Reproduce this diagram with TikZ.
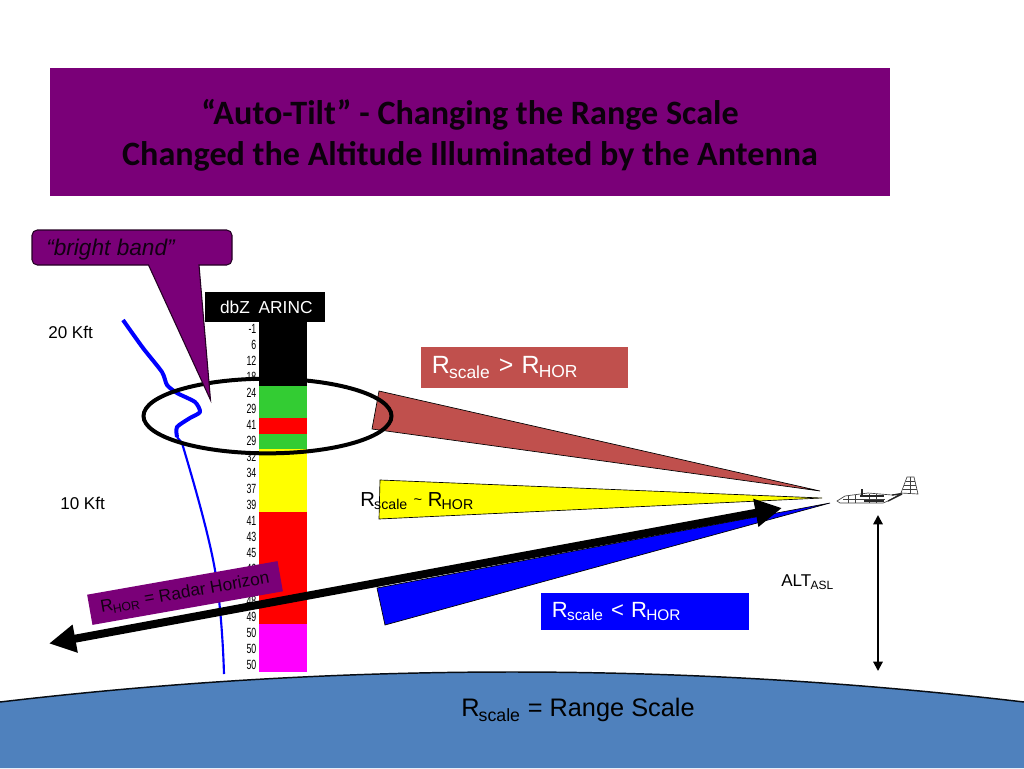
\documentclass[tikz,border=0pt]{standalone}
\usepackage{fontspec}
\setmainfont{Liberation Sans}
\newfontfamily\titlefont{Carlito}
\usetikzlibrary{arrows.meta,shapes.geometric}
\definecolor{plumbox}{HTML}{7A0078}
\definecolor{dullred}{HTML}{C0504D}
\definecolor{earthblue}{HTML}{4F81BD}
\definecolor{dbgreen}{HTML}{33CC33}
\definecolor{dbyellow}{HTML}{FFFF00}
\definecolor{dbred}{HTML}{FF0000}
\definecolor{dbmagenta}{HTML}{FF00FF}
\definecolor{dbblue}{HTML}{0000FF}
\newcommand{\rsub}[2]{#1\textsubscript{\kern-.05em#2}}
\tikzset{
	dbcell/.style={anchor=north west,minimum width=36pt,inner sep=0pt,outer sep=0pt},
	dblabel/.style={anchor=east,inner sep=0pt,font=\fontsize{10}{10}\selectfont,xscale=.66},
	plain/.style={anchor=west,inner sep=0pt,font=\fontsize{12.8}{12.8}\selectfont},
	big/.style={anchor=west,inner sep=0pt,font=\fontsize{18.7}{18.7}\selectfont},
	beam/.style={draw=black,line width=.5pt,line join=miter},
	curve/.style={dbblue,line join=round}
}
\begin{document}
\begin{tikzpicture}[x=.75pt,y=-.75pt]
	\useasboundingbox (0,0) rectangle (1024,768);
	\fill[white] (0,0) rectangle (1024,768);
	% title
	\node (title) [fill=plumbox,minimum width=630pt,minimum height=96pt,inner sep=0pt,align=center,font=\titlefont\bfseries\fontsize{25.6}{30.5}\selectfont,text=black!90!plumbox] at (470,132)
		{\rule{0pt}{24pt}“Auto-Tilt” - Changing the Range Scale\\Changed the Altitude Illuminated by the Antenna};
	% earth
	\fill[earthblue] (0,702) .. controls (170,682) and (340,672) .. (512,672) .. controls (684,672) and (854,682) .. (1024,702) -- (1024,768) -- (0,768) -- cycle;
	\draw[black!90!earthblue,line width=1.1pt] (0,702) .. controls (170,682) and (340,672) .. (512,672) .. controls (684,672) and (854,682) .. (1024,702);
	% reflectivity profile
	\draw[curve,line width=3pt] plot[smooth,tension=.4] coordinates {(123,320) (143,348) (162,372) (167,385) (177,393) (195,402) (200,412) (190,418) (177,427) (177,437)};
	\draw[curve,line width=1.6pt] (177,437) -- (182,443) .. controls (190,470) and (208,530) .. (215,570) .. controls (220,600) and (223,640) .. (224,674);
	% scale
	\node (head) [fill=black,text=white,minimum width=90pt,minimum height=22.5pt,inner sep=0pt,font=\fontsize{13}{13}\selectfont] at (265,307) {\kern2pt dbZ\,\,\,ARINC};
	\node (cblack) [dbcell,fill=black,minimum height=48pt] at (259,322) {};
	\node (cgreena) [dbcell,fill=dbgreen,minimum height=24pt] at (259,386) {};
	\node (credb) [dbcell,fill=dbred,minimum height=12pt] at (259,418) {};
	\node (cgreenb) [dbcell,fill=dbgreen,minimum height=12pt] at (259,434) {};
	\node (cyellow) [dbcell,fill=dbyellow,minimum height=47.25pt] at (259,449) {};
	\node (cred) [dbcell,fill=dbred,minimum height=84pt] at (259,512) {};
	\node (cmagenta) [dbcell,fill=dbmagenta,minimum height=36pt] at (259,624) {};
	\foreach \yy/\val in {329/-1,345/6,361/12,377/18,393/24,409/29,425/41,441/29,457/32,473/34,489/37,505/39,521/41,537/43,553/45,569/46,601/48,617/49,633/50,649/50,665/50}
		\node[dblabel] at (256.5,\yy) {\val};
	% beams
	\draw[beam,fill=dullred] (379,391) -- (372,429) -- (820,491) -- cycle;
	\draw[beam,fill=dbyellow] (380,480) -- (379,519) -- (822,498) -- cycle;
	\draw[beam,fill=dbblue] (377,588) -- (385,625) -- (830,503) -- cycle;
	% ellipse round the bright band
	\node (band) [draw=black,line width=3pt,ellipse,minimum width=186pt,minimum height=56pt,inner sep=0pt] at (267.5,416) {};
	% callout
	\draw[fill=plumbox,draw=black!70!plumbox,line width=.8pt] (199,265) -- (210.5,400) -- (148.5,265) [rounded corners=4pt] -- (32,265) -- (32,230) -- (232,230) -- (232,265) [sharp corners] -- cycle;
	\node (bright) [plain,text=black!85!plumbox,font=\itshape\fontsize{17}{17}\selectfont] at (46,250) {“bright band”};
	% labels
	\node (kfttop) [plain] at (48,332) {20 Kft};
	\node (kftmid) [plain] at (60,503) {10 Kft};
	\node (above) [big,fill=dullred,text=white,text width=139pt,minimum height=30.5pt,inner xsep=8pt,align=left] at (421,367.5) {\rsub{R}{scale} > \rsub{R}{HOR}};
	\node (equal) [big,anchor=west,font=\fontsize{15.2}{15.2}\selectfont] at (360,501) {\rsub{R}{scale} \fontsize{11}{11}\selectfont\raisebox{1pt}{\textasciitilde}\fontsize{15.2}{15.2}\selectfont{} \rsub{R}{HOR}};
	\node (below) [big,fill=dbblue,text=white,text width=140pt,minimum height=28pt,inner xsep=8pt,align=left,font=\fontsize{16.5}{16.5}\selectfont] at (541,611.5) {\raisebox{-3pt}{\rsub{R}{scale} < \rsub{R}{HOR}}};
	\node (range) [big,font=\fontsize{19}{19}\selectfont] at (461,710) {\rsub{R}{scale} = Range Scale};
	\node (alt) [plain] at (781,582) {\rsub{ALT}{ASL}};
	% radar horizon
	\node (horizon) [fill=plumbox,rotate=10,minimum width=145pt,minimum height=23pt,inner sep=0pt,text=black!85!plumbox,font=\fontsize{13}{13}\selectfont] at (185,593) {\rsub{R}{HOR} = Radar Horizon};
	\coordinate (hora) at (782,508);
	\coordinate (horb) at (49,643.5);
	\draw[line width=6pt,{Triangle[width=20pt,length=20pt]}-{Triangle[width=20pt,length=20pt]}] (horb) -- (hora);
	% altitude
	\coordinate (alta) at (878,515);
	\coordinate (altb) at (878,671);
	\draw[line width=1.5pt,{Triangle[width=7pt,length=7pt]}-{Triangle[width=7pt,length=7pt]}] (alta) -- (altb);
	% aircraft
	\begin{scope}[line width=.5pt,draw=black!75,fill=white]
		\filldraw (837,501) -- (845,496) -- (868,493) -- (892,495) -- (902,493) -- (888,501) -- (883,503) -- (840,503) -- cycle;
		\filldraw (901,493) -- (907,477) -- (914,477) -- (918,494) -- cycle;
		\draw (906,481) -- (915,481) (904,485) -- (916,485) (903,489) -- (917,489) (910,477) -- (910,493);
		\draw (848,496) -- (848,503) (855,495) -- (855,503) (869,494) -- (869,503) (876,494) -- (876,503) (843,499) -- (885,499);
		\draw[line width=1.4pt,black!85] (862,489) -- (862,497) (860,496) -- (884,496) (864,501) -- (884,501);
		\draw[line width=1pt,black!85] (888,501) -- (902,494) (892,495) -- (902,494);
	\end{scope}
\end{tikzpicture}
\end{document}
